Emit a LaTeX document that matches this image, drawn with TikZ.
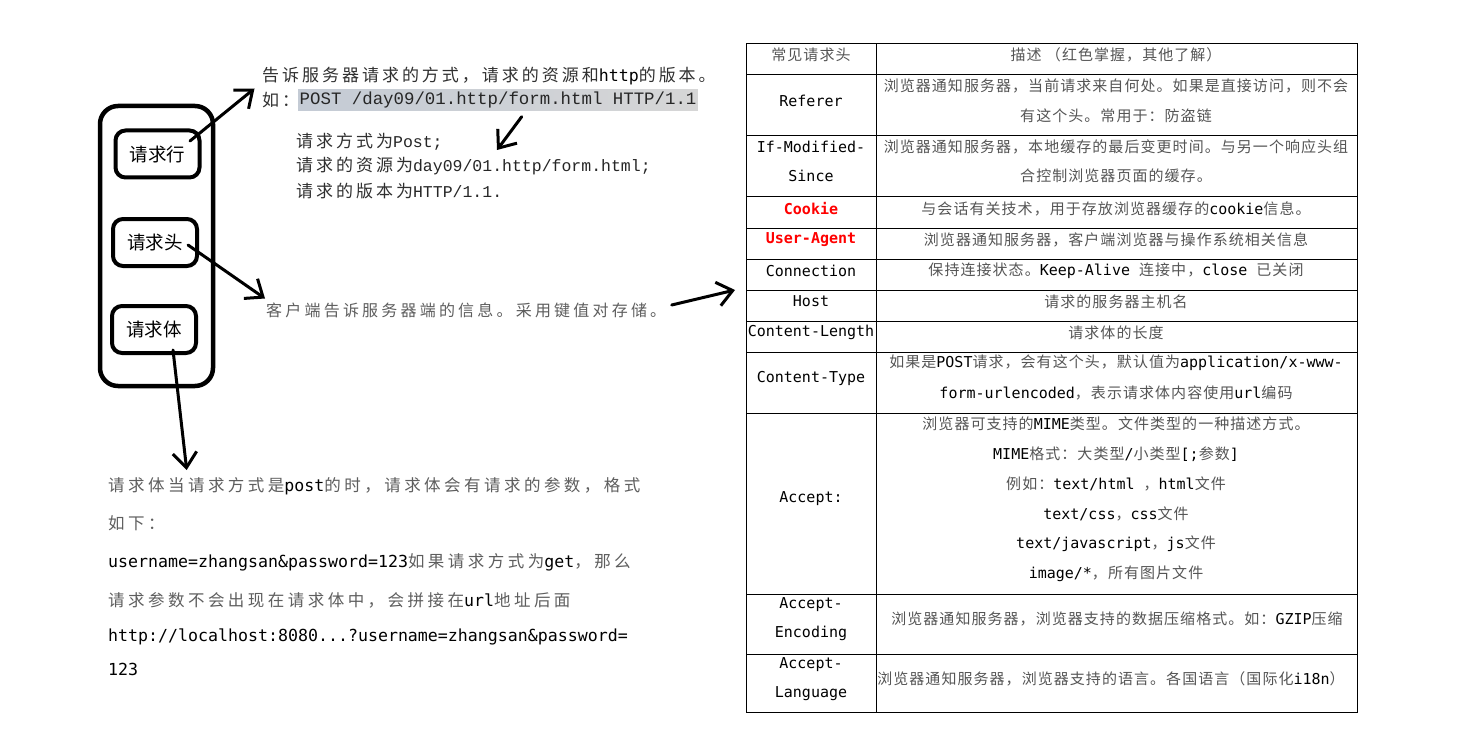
\documentclass[tikz,border=0pt]{standalone}
\usepackage{fontspec}
\setmainfont{Noto Sans CJK SC}
\newfontfamily\cjT[LetterSpace=7]{Noto Sans CJK SC}
\newfontfamily\cjL[LetterSpace=17.5]{Noto Sans CJK SC}
\newfontfamily\cjG[LetterSpace=20]{Noto Sans CJK SC}
\newfontfamily\cjB[LetterSpace=21]{Noto Sans CJK SC}
\newfontfamily\cjBox{Noto Sans CJK SC}
\newfontfamily\mo{DejaVu Sans Mono}
\newfontfamily\cmo{Liberation Mono}
\usetikzlibrary{arrows.meta}
\definecolor{tabtext}{HTML}{555555}
\definecolor{lefttext}{HTML}{303030}
\definecolor{graytext}{HTML}{5E5E5E}
\definecolor{hlA}{HTML}{C4CBD5}
\definecolor{hlB}{HTML}{D8C9CE}
\definecolor{hlC}{HTML}{D6D6D6}
\newcommand\tabcj{\cjT\fontsize{15}{17}\selectfont\color{tabtext}}
\newcommand\tm[1]{{\mo\fontsize{15}{17}\selectfont\color{black}#1}}
\newcommand\tmr[1]{{\mo\bfseries\fontsize{15}{17}\selectfont\color{red}#1}}
\newcommand\lcj{\cjL\fontsize{17}{19}\selectfont\color{lefttext}}
\newcommand\lmo[1]{{\mo\fontsize{16.6}{19}\selectfont\color{black}#1}}
\newcommand\lcm[1]{{\cmo\fontsize{16.5}{19}\selectfont\color{black!85}#1}}
\newcommand\gcj{\cjG\fontsize{16}{18}\selectfont\color{graytext}}
\newcommand\bcj{\cjB\fontsize{16.5}{18}\selectfont\color{graytext}}
\newcommand\bmo[1]{{\mo\fontsize{16.6}{19}\selectfont\color{black}#1}}
\tikzset{
  tc/.style={inner sep=0pt, anchor=center},
  tw/.style={inner sep=0pt, anchor=west},
  reqbox/.style={draw, line width=4pt, rounded corners=10pt, minimum width=84pt,
    minimum height=47pt, inner sep=0pt, font=\cjBox\fontsize{18.5}{20}\selectfont},
  outerbox/.style={draw, line width=4.5pt, rounded corners=18pt, minimum width=113pt,
    minimum height=280pt, inner sep=0pt},
  arr/.style={line width=3pt, line cap=round,
    -{Straight Barb[length=15pt, width=24pt, line width=3pt]}},
  tbl/.style={line width=1pt, black},
}
\begin{document}
\begin{tikzpicture}[x=1pt,y=-1pt]
\useasboundingbox (0,0) rectangle (1458,746);
\fill[white] (0,0) rectangle (1458,746);

% ---------- left diagram ----------
\node[outerbox] (outer) at (156.5,246) {};
\node[reqbox] (rl) at (157.5,154) {请求行};
\node[reqbox] (rh) at (155,242.5) {请求头};
\node[reqbox] (rb) at (154,329.5) {请求体};

\node[tw] (t1) at (262,76) {\lcj 告诉服务器请求的方式，请求的资源和\lmo{http}的版本。};
\node[tw] (t2a) at (262,100) {\lcj 如：};
\node[tw, shade, left color=hlA, middle color=hlB, right color=hlC,
      minimum height=21pt, inner xsep=1.5pt] (t2b) at (298,100)
      {\cmo\fontsize{17.4}{19}\selectfont\color{black!85}POST /day09/01.http/form.html HTTP/1.1};
\node[tw] (t3) at (296,141.5) {\lcj 请求方式为\lcm{Post;}};
\node[tw] (t4) at (296,166.5) {\lcj 请求的资源为\lcm{day09/01.http/form.html;}};
\node[tw] (t5) at (296,191.5) {\lcj 请求的版本为\lcm{HTTP/1.1.}};
\node[tw] (t6) at (266,310.5) {\gcj 客户端告诉服务器端的信息。采用键值对存储。};

\node[tw] (b1) at (108,486) {\bcj 请求体当请求方式是\bmo{post}的时，请求体会有请求的参数，格式};
\node[tw] (b2) at (108,523) {\bcj 如下：};
\node[tw] (b3) at (108,562) {\bcj \bmo{username=zhangsan\&password=123}如果请求方式为\bmo{get}，那么};
\node[tw] (b4) at (108,600) {\bcj 请求参数不会出现在请求体中，会拼接在\bmo{url}地址后面};
\node[tw] (b5) at (108,636.5) {\bmo{http://localhost:8080...?username=zhangsan\&password=}};
\node[tw] (b6) at (108,669) {\bmo{123}};

% arrows
\coordinate (a1s) at (190,141);   \coordinate (a1e) at (254.5,88.5);
\coordinate (a2s) at (521.7,116.7); \coordinate (a2e) at (497,150);
\coordinate (a3s) at (188,245);   \coordinate (a3e) at (265,298.5);
\coordinate (a4s) at (671.7,305); \coordinate (a4e) at (735,290);
\coordinate (a5s) at (173,350);   \coordinate (a5e) at (186.7,470);
\draw[arr] (a1s) -- (a1e);
\draw[arr] (a2s) -- (a2e);
\draw[arr] (a3s) -- (a3e);
\draw[arr] (a4s) -- (a4e);
\draw[arr] (a5s) -- (a5e);

% ---------- table ----------
\draw[tbl] (746,44) rectangle (1357,712);
\draw[tbl] (876,44) -- (876,712);
\foreach \yy in {75,136,197,228,259,290,321,352,413,594,654}
  \draw[tbl] (746,\yy) -- (1357,\yy);

\node[tc] (h1) at (811,55) {\tabcj 常见请求头};
\node[tc] (h2) at (1116,55) {\tabcj 描述 （红色掌握，其他了解）};

\node[tc] (r1a) at (811,101) {\tm{Referer}};
\node[tc] (r1b) at (1116,86) {\tabcj 浏览器通知服务器，当前请求来自何处。如果是直接访问，则不会};
\node[tc] (r1c) at (1116,115.5) {\tabcj 有这个头。常用于：防盗链};

\node[tc] (r2a) at (811,147) {\tm{If-Modified-}};
\node[tc] (r2b) at (811,176) {\tm{Since}};
\node[tc] (r2c) at (1116,146.5) {\tabcj 浏览器通知服务器，本地缓存的最后变更时间。与另一个响应头组};
\node[tc] (r2d) at (1116,176) {\tabcj 合控制浏览器页面的缓存。};

\node[tc] (r3a) at (811,208.5) {\tmr{Cookie}};
\node[tc] (r3b) at (1116,208.5) {\tabcj 与会话有关技术，用于存放浏览器缓存的\tm{cookie}信息。};

\node[tc] (r4a) at (811,239.5) {\tmr{User-Agent}};
\node[tc] (r4b) at (1116,239.5) {\tabcj 浏览器通知服务器，客户端浏览器与操作系统相关信息};

\node[tc] (r5a) at (811,270.5) {\tm{Connection}};
\node[tc] (r5b) at (1116,270.5) {\tabcj 保持连接状态。\tm{Keep-Alive }连接中，\tm{close }已关闭};

\node[tc] (r6a) at (811,301.5) {\tm{Host}};
\node[tc] (r6b) at (1116,301.5) {\tabcj 请求的服务器主机名};

\node[tc] (r7a) at (811,332.5) {\tm{Content-Length}};
\node[tc] (r7b) at (1116,332.5) {\tabcj 请求体的长度};

\node[tc] (r8a) at (811,378.5) {\tm{Content-Type}};
\node[tc] (r8b) at (1116,363) {\tabcj 如果是\tm{POST}请求，会有这个头，默认值为\tm{application/x-www-}};
\node[tc] (r8c) at (1116,393) {\tabcj \tm{form-urlencoded}，表示请求体内容使用\tm{url}编码};

\node[tc] (r9a) at (811,499) {\tm{Accept:}};
\node[tc] (r9b) at (1116,424) {\tabcj 浏览器可支持的\tm{MIME}类型。文件类型的一种描述方式。};
\node[tc] (r9c) at (1116,454) {\tabcj \tm{MIME}格式：大类型\tm{/}小类型\tm{[;}参数\tm{]}};
\node[tc] (r9d) at (1116,484) {\tabcj 例如：\tm{text/html }，\tm{html}文件};
\node[tc] (r9e) at (1116,514) {\tabcj \tm{text/css}，\tm{css}文件};
\node[tc] (r9f) at (1116,544) {\tabcj \tm{text/javascript}，\tm{js}文件};
\node[tc] (r9g) at (1116,574) {\tabcj \tm{image/*}，所有图片文件};

\node[tc] (r10a) at (811,604.5) {\tm{Accept-}};
\node[tc] (r10b) at (811,633.5) {\tm{Encoding}};
\node[tc] (r10c) at (1117,619) {\tabcj 浏览器通知服务器，浏览器支持的数据压缩格式。如：\tm{GZIP}压缩};

\node[tc] (r11a) at (811,664.5) {\tm{Accept-}};
\node[tc] (r11b) at (811,693.5) {\tm{Language}};
\node[tc] (r11c) at (1111,678.5) {\tabcj 浏览器通知服务器，浏览器支持的语言。各国语言（国际化\tm{i18n}）};
\end{tikzpicture}
\end{document}
